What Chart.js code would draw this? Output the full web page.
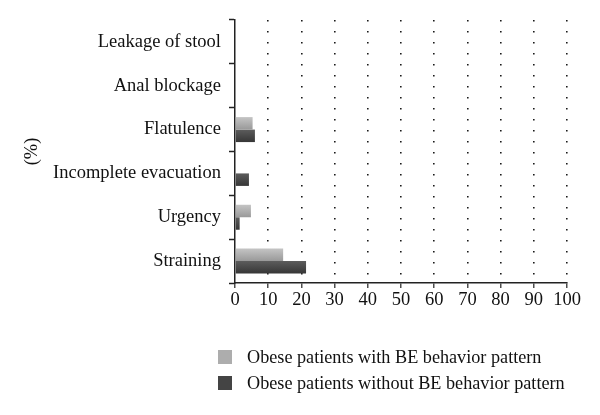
<!DOCTYPE html>
<html>
<head>
<meta charset="utf-8">
<script src="https://cdn.jsdelivr.net/npm/chart.js@4"></script>
<style>
  body { margin: 0; background: #fff; }
  #wrap { position: relative; width: 600px; height: 415px; }
  #legend { position: absolute; left: 218px; top: 344px; font-family: "Liberation Serif", serif; font-size: 18.2px; color: #111; }
  .item { display: flex; align-items: center; height: 26px; }
  .box { width: 14px; height: 14px; margin-right: 15px; }
</style>
</head>
<body>
<div id="wrap">
  <canvas id="cvChart" width="600" height="415"></canvas>
  <div id="legend"></div>
</div>
<script>
const categories = ["Leakage of stool", "Anal blockage", "Flatulence", "Incomplete evacuation", "Urgency", "Straining"];
const withBE = [0, 0, 5.3, 0, 4.8, 14.5];
const withoutBE = [0, 0, 6.0, 4.2, 1.4, 21.4];
const xTicks = [0, 10, 20, 30, 40, 50, 60, 70, 80, 90, 100];
const seriesLabels = ["Obese patients with BE behavior pattern", "Obese patients without BE behavior pattern"];
const seriesColors = ["#adadad", "#444444"];
const gradStops = [["#c4c4c4", "#999999"], ["#5c5c5c", "#363636"]];

const font = { family: "Liberation Serif", size: 18.5 };

// vertical shading inside each bar, like the original
const barFill = (context) => {
    const ds = context.datasetIndex;
    const yScale = context.chart.scales.y;
    if (!yScale || context.dataIndex === undefined) return seriesColors[ds];
    const center = yScale.getPixelForValue(context.dataIndex);
    const half = yScale.height / categories.length * 0.57 / 2;
    if (!isFinite(center) || !isFinite(half) || half <= 0) return seriesColors[ds];
    const top = ds === 0 ? center - half : center;
    const bottom = ds === 0 ? center : center + half;
    const g = context.chart.ctx.createLinearGradient(0, top, 0, bottom);
    g.addColorStop(0, gradStops[ds][0]);
    g.addColorStop(1, gradStops[ds][1]);
    return g;
};

const ctx = document.getElementById("cvChart").getContext("2d");
const myChart = new Chart(ctx, {
    type: "bar",
    data: {
        labels: categories,
        datasets: [
            { label: seriesLabels[0], data: withBE, backgroundColor: barFill },
            { label: seriesLabels[1], data: withoutBE, backgroundColor: barFill }
        ]
    },
    options: {
        indexAxis: "y",
        responsive: false,
        animation: false,
        barPercentage: 1,
        categoryPercentage: 0.57,
        layout: { padding: { top: 20, right: 33, bottom: 102, left: 0 } },
        plugins: {
            legend: { display: false },
            tooltip: { enabled: false }
        },
        scales: {
            x: {
                min: 0,
                max: 100,
                afterBuildTicks: (scale) => { scale.ticks = xTicks.map(v => ({ value: v })); },
                afterFit: (scale) => { scale.height = 30; },
                ticks: { color: "#111", font: font, padding: 1, maxRotation: 0 },
                grid: {
                    color: (c) => c.index === 0 ? "rgba(0,0,0,0)" : "#1a1a1a",
                    lineWidth: 1.6,
                    tickLength: 5,
                    tickColor: "#222",
                    tickBorderDash: [],
                    tickWidth: 1.2
                },
                border: { display: true, color: "#222", width: 1.5, dash: [1.6, 9.4] }
            },
            y: {
                afterFit: (scale) => { scale.width = 235; },
                ticks: { color: "#111", font: font, padding: 8 },
                grid: {
                    drawOnChartArea: false,
                    tickLength: 6,
                    tickColor: "#222",
                    tickWidth: 1.5
                },
                border: { display: true, color: "#222", width: 1.5 },
                title: { display: true, text: "(%)", color: "#111", font: font, padding: { top: 21, bottom: 0 } }
            }
        }
    }
});

const legend = document.getElementById("legend");
seriesLabels.forEach((label, i) => {
    legend.insertAdjacentHTML("beforeend", `
        <div class="item"><div class="box" style="background:${seriesColors[i]}"></div><span>${label}</span></div>
    `);
});
</script>
</body>
</html>
